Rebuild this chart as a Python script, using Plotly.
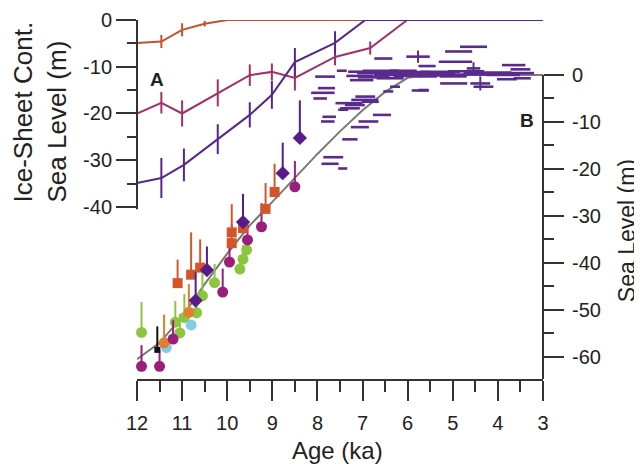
import plotly.graph_objects as go

# ---------------- Panel A: ice-sheet contributions (left axis) ----------------
orange_age = [12.0, 11.46, 11.0, 10.5, 10.0, 3.0]
orange_val = [-4.9, -4.6, -2.1, -0.8, 0.0, 0.0]
orange_err = [0.8, 1.4, 1.4, 0.6, 0.0, 0.0]

magenta_age = [12.0, 11.46, 11.0, 10.21, 9.5, 9.01, 8.5, 7.61, 6.83, 6.01, 3.0]
magenta_val = [-20.0, -17.7, -20.0, -15.6, -11.8, -11.1, -12.4, -7.9, -6.0, 0.0, 0.0]
magenta_err = [2.5, 2.3, 2.8, 2.9, 2.3, 1.8, 2.7, 1.8, 1.4, 0.0, 0.0]

purple_age = [12.0, 11.46, 10.96, 10.21, 9.5, 9.01, 8.5, 7.61, 6.94, 3.0]
purple_val = [-34.9, -33.8, -31.0, -25.5, -20.3, -16.0, -9.0, -4.9, 0.0, 0.0]
purple_err = [4.5, 4.3, 3.5, 3.2, 2.7, 3.0, 3.0, 2.5, 0.0, 0.0]

# ---------------- Panel B: sea level (right axis) ----------------
model_age = [12.0, 11.5, 11.0, 10.5, 10.0, 9.5, 9.0, 8.5, 8.0, 7.5, 7.0, 6.5, 6.0, 5.5, 5.0, 4.0, 3.0]
model_val = [-60.5, -57.0, -51.5, -44.5, -38.0, -32.0, -27.0, -21.8, -16.8, -12.0, -7.5, -3.6, -0.6, 0.0, 0.0, 0.0, 0.0]

mag_age = [11.9, 11.5, 11.2, 10.1, 9.95, 9.55, 9.24, 8.5]
mag_val = [-62.0, -62.0, -56.2, -46.2, -39.8, -35.1, -32.3, -23.8]
mag_up = [4.5, 3.5, 4.0, 5.0, 5.0, 4.0, 5.0, 5.5]

grn_age = [11.9, 11.05, 11.15, 10.95, 10.68, 10.55, 10.28, 9.72, 9.65, 9.57]
grn_val = [-54.8, -54.9, -52.6, -51.6, -50.6, -47.0, -44.2, -41.3, -39.2, -37.2]
grn_up = [6.5, 4.0, 4.5, 5.0, 4.0, 5.0, 4.0, 3.0, 3.0, 2.5]

org_age = [12.03, 11.4, 10.85]
org_val = [-63.2, -57.0, -50.5]
org_up = [6.5, 6.0, 6.0]

blue_age = [11.35, 10.8]
blue_val = [-58.0, -53.2]

sq_age = [11.1, 10.8, 10.6, 9.9, 9.9, 9.65, 9.15, 8.95]
sq_val = [-44.3, -42.5, -41.0, -33.5, -35.8, -32.6, -28.5, -24.9]
sq_up = [5.0, 9.0, 6.0, 6.0, 4.0, 5.0, 5.5, 6.0]

dia_age = [8.77, 8.39, 9.65, 10.7, 10.45]
dia_val = [-20.9, -13.4, -31.3, -48.0, -41.5]
dia_up = [6.5, 8.0, 6.0, 6.0, 5.0]

blk_age = [11.55]
blk_val = [-58.5]
blk_up = [5.0]

dash_age = [7.83, 7.80, 7.88, 7.94, 7.74, 7.77, 7.28, 7.65, 7.72, 7.44, 7.46, 6.54, 5.77,
            7.13, 7.06, 7.02, 6.68, 6.17, 6.39, 5.94, 6.94, 6.83, 7.17, 7.28, 7.43, 6.57,
            6.87, 7.06, 6.28, 6.43, 5.72, 4.54, 4.87, 4.94, 5.57, 3.65, 3.50, 4.54, 5.28,
            4.24, 3.50, 4.98, 4.39, 4.32, 3.80, 3.46, 5.65, 5.57, 4.99, 3.88, 7.30, 6.95,
            6.60, 5.40, 4.70, 6.30, 5.90, 5.20, 4.60, 4.00, 6.75, 6.10]
dash_val = [-0.35, -2.8, -3.8, -5.0, -8.9, -9.9, -13.7, -17.5, -18.9, -19.9, 0.9, 3.5, 3.9,
            0.7, -0.2, -1.1, 0.4, 0.4, -0.7, -0.2, -4.6, -5.7, -6.4, -7.1, -7.4, -8.5,
            -9.9, -11.1, -2.5, -3.5, -3.3, 6.0, 5.0, 2.8, 1.9, 2.1, 1.2, 1.4, 0.7,
            0.4, 0.4, -1.8, -1.8, -2.5, -0.9, -0.7, -3.2, -0.3, -0.3, 0.0, -6.0, -5.3,
            0.9, 0.2, 0.8, 0.0, 0.6, -0.1, 0.1, 0.5, -0.5, 0.9]
dash_hw = [0.22, 0.19, 0.26, 0.15, 0.15, 0.15, 0.17, 0.22, 0.19, 0.10, 0.11, 0.20, 0.26,
           0.19, 0.30, 0.26, 0.44, 0.55, 0.30, 0.37, 0.22, 0.19, 0.22, 0.22, 0.11, 0.20,
           0.22, 0.20, 0.11, 0.11, 0.19, 0.30, 0.30, 0.37, 0.19, 0.26, 0.22, 0.15, 0.44,
           0.52, 0.30, 0.30, 0.22, 0.22, 0.22, 0.19, 0.11, 0.22, 0.30, 0.37, 0.30, 0.30,
           0.40, 0.45, 0.40, 0.45, 0.40, 0.35, 0.40, 0.30, 0.35, 0.30]
dash_vert = [0, 0, 0, 0, 0, 0, 0, 0, 0, 0, 0, 0, 1.3,
             0, 0, 0, 0, 0, 0, 0, 0, 0, 0, 0, 0, 0,
             0, 0, 0, 0, 0, 0, 0, 0, 0, 0, 0, 1.3, 0,
             0, 0, 0, 1.5, 0, 0, 0, 0, 0, 0, 0, 0, 0,
             0, 0, 0, 0, 0, 0, 0, 0, 0, 0]

x_ticks = [12, 11, 10, 9, 8, 7, 6, 5, 4, 3]
x_minor = [11.5, 10.5, 9.5, 8.5, 7.5, 6.5, 5.5, 4.5, 3.5]
yA_ticks = [0, -10, -20, -30, -40]
yA_minor = [-5, -15, -25, -35]
yB_ticks = [0, -10, -20, -30, -40, -50, -60]
yB_minor = [-5, -15, -25, -35, -45, -55]

AX = "#333333"
FONT = "Liberation Sans, Arial, sans-serif"
TXT = "#222222"

fig = go.Figure()

# Panel A lines
for age, val, err, col in [(orange_age, orange_val, orange_err, "#c4502e"),
                           (magenta_age, magenta_val, magenta_err, "#a2306b"),
                           (purple_age, purple_val, purple_err, "#55268c")]:
    fig.add_trace(go.Scatter(x=age, y=val, mode="lines", xaxis="x", yaxis="y",
                             line=dict(color=col, width=2),
                             error_y=dict(type="data", array=err, width=0, thickness=2, color=col),
                             showlegend=False, hoverinfo="skip"))

# Panel B model line
fig.add_trace(go.Scatter(x=model_age, y=model_val, mode="lines", xaxis="x", yaxis="y2",
                         line=dict(color="#7a7a70", width=2), showlegend=False))

# dashes (horizontal age uncertainties)
fig.add_trace(go.Scatter(x=dash_age, y=dash_val, mode="markers", xaxis="x", yaxis="y2",
                         marker=dict(size=1, color="#5b2a8e"),
                         error_x=dict(type="data", array=dash_hw, width=0, thickness=2.6, color="#5b2a8e"),
                         error_y=dict(type="data", array=dash_vert, width=0, thickness=2, color="#5b2a8e"),
                         cliponaxis=False, showlegend=False))

def pts(age, val, up, col, sym, size):
    fig.add_trace(go.Scatter(x=age, y=val, mode="markers", xaxis="x", yaxis="y2",
                             marker=dict(symbol=sym, size=size, color=col, line=dict(width=0)),
                             error_y=dict(type="data", symmetric=False, array=up,
                                          arrayminus=[0] * len(up), width=0, thickness=2, color=col),
                             cliponaxis=False, showlegend=False))

pts(grn_age, grn_val, grn_up, "#8cc63f", "circle", 11)
pts(blue_age, blue_val, [0] * len(blue_age), "#84cbe6", "circle", 11)
pts(org_age, org_val, org_up, "#e07f30", "circle", 11)
pts(mag_age, mag_val, mag_up, "#9a1f7b", "circle", 11)
pts(sq_age, sq_val, sq_up, "#d4552a", "square", 10)
pts(blk_age, blk_val, blk_up, "#111111", "square", 6)
pts(dia_age, dia_val, dia_up, "#581c88", "diamond", 11)

tickfont = dict(family=FONT, size=20, color=TXT)

# the page body has an 8px margin: the figure starts at (8, 8) in the window
fig.update_layout(
    width=634, height=456,
    margin=dict(l=129, r=99, t=12, b=85, autoexpand=False),
    paper_bgcolor="white", plot_bgcolor="white",
    xaxis=dict(range=[12, 3], tickvals=x_ticks, ticks="outside", ticklen=20, tickwidth=2,
               tickcolor=AX, showline=True, linewidth=2, linecolor=AX, showgrid=False,
               zeroline=False, tickfont=tickfont, anchor="y", automargin=False,
               ticklabelstandoff=5,
               minor=dict(tickvals=x_minor, ticks="outside", ticklen=11, tickwidth=2, tickcolor=AX)),
    xaxis2=dict(range=[12, 3], overlaying="x", side="top", anchor="y", tickvals=x_ticks,
                ticks="inside", ticklen=20, tickwidth=2, tickcolor=AX, showline=True,
                linewidth=2, linecolor=AX, showgrid=False, zeroline=False, showticklabels=False,
                automargin=False,
                minor=dict(tickvals=x_minor, ticks="inside", ticklen=10, tickwidth=2, tickcolor=AX)),
    yaxis=dict(range=[-76.8, 0], tickvals=yA_ticks, ticktext=["0", "-10", "-20", "-30", "-40"],
               ticks="outside", ticklen=20, tickwidth=2, tickcolor=AX, showline=False,
               showgrid=False, zeroline=False, tickfont=tickfont, anchor="x", automargin=False,
               minor=dict(tickvals=yA_minor, ticks="outside", ticklen=9, tickwidth=2, tickcolor=AX)),
    yaxis2=dict(range=[-64.7, 11.7], overlaying="y", side="right", anchor="x",
                tickvals=yB_ticks, ticktext=["0", "-10", "-20", "-30", "-40", "-50", "-60"],
                ticks="outside", ticklen=20, tickwidth=2, tickcolor=AX, showline=False,
                showgrid=False, zeroline=False, tickfont=tickfont, automargin=False,
                ticklabelstandoff=4,
                minor=dict(tickvals=yB_minor, ticks="outside", ticklen=10, tickwidth=2, tickcolor=AX)),
    shapes=[
        dict(type="line", xref="paper", yref="y", x0=0, x1=0, y0=0, y1=-40.5,
             line=dict(color=AX, width=2)),
        dict(type="line", xref="paper", yref="y2", x0=1, x1=1, y0=0, y1=-64.7,
             line=dict(color=AX, width=2)),
    ],
    annotations=[
        dict(text="Ice-Sheet Cont.<br>Sea Level (m)", xref="paper", yref="paper",
             x=-0.239, y=0.745, xanchor="center", yanchor="middle", textangle=-90,
             showarrow=False, align="left",
             font=dict(family=FONT, size=26, color=TXT)),
        dict(text="Sea Level (m)", xref="paper", yref="paper", x=1.207, y=0.412,
             xanchor="center", yanchor="middle", textangle=-90, showarrow=False,
             font=dict(family=FONT, size=23, color=TXT)),
        dict(text="Age (ka)", xref="paper", yref="paper", x=0.493, y=-0.198,
             xanchor="center", yanchor="middle", showarrow=False,
             font=dict(family=FONT, size=24, color=TXT)),
        dict(text="<b>A</b>", xref="paper", yref="paper", x=0.049, y=0.833,
             xanchor="center", yanchor="middle", showarrow=False,
             font=dict(family=FONT, size=19, color=TXT)),
        dict(text="<b>B</b>", xref="paper", yref="paper", x=0.96, y=0.721,
             xanchor="center", yanchor="middle", showarrow=False,
             font=dict(family=FONT, size=19, color=TXT)),
    ],
)

fig.write_html("out.html")
